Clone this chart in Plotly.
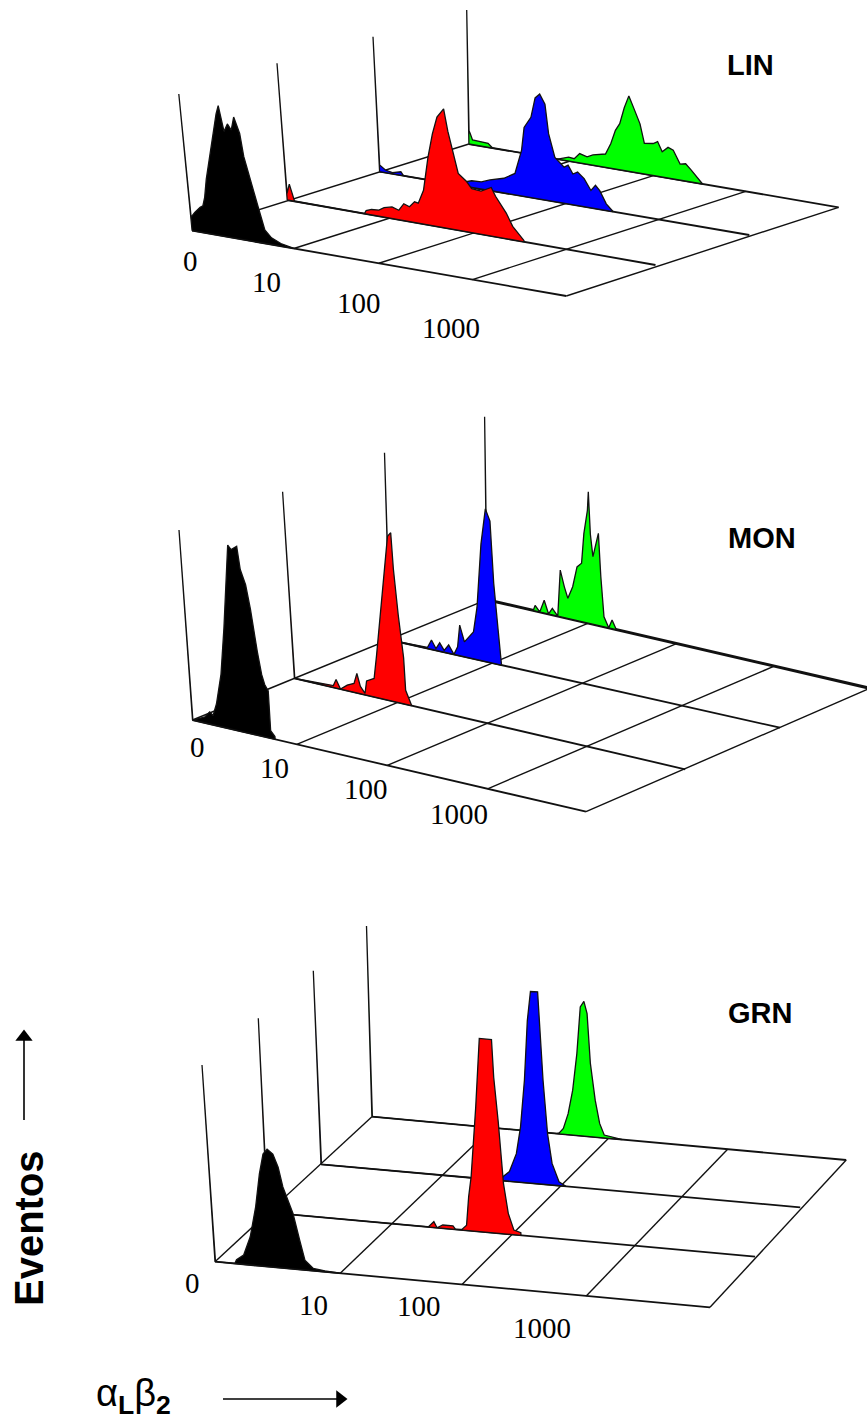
import plotly.graph_objects as go

# ---- histogram data: x = percent of the log channel axis, y = fraction of full scale ----
lin_black_x = [0,.1,1.2,2.8,3.6,4.3,5.2,6.4,7.4,8.6,9.6,10.4,11.3,12.4,13.3,14.3,15.5,16,16.8,17.4,18.6,19.8,21.4,23.8,27.2]
lin_black_y = [1,.1,.14,.185,.2,.265,.4,.54,.64,.80,.9,.965,.78,.84,.80,.90,.785,.62,.5,.42,.26,.10,.05,.02,0]
lin_red_x = [0,.1,.9,2,21,21.5,23,25,26.5,28.7,30.5,32,33.5,35,36,37.7,39.6,41.3,42.9,44.9,45.6,46.6,47.6,49.6,51,53.5,56.4,57.4,60,61.5,64.3]
lin_red_y = [1,.05,.12,0,0,.025,.04,.045,.07,.086,.07,.125,.11,.153,.148,.25,.50,.68,.81,.88,.72,.58,.42,.375,.325,.32,.36,.30,.19,.10,.01]
lin_blue_x = [0,.1,1.6,3.5,5.8,6.5,22,22.7,25,27.6,30,33.8,36.9,39,40,42,43.4,44.7,46,46.6,48,50.4,51.5,52.7,54,55.7,57.4,58.7,59.8,61.4,63.2]
lin_blue_y = [1,.05,.02,.01,.027,0,0,.03,.05,.054,.08,.11,.16,.34,.515,.60,.75,.785,.715,.50,.33,.27,.29,.23,.25,.21,.13,.175,.14,.05,0]
lin_green_x = [0,.1,.4,1,5.2,6.4,24,27,28.5,30,32,33.6,37,38.5,39.8,41,42.3,43.6,44.8,46.5,47.6,50,51.2,52.4,54,55.4,57.2,58.7,60.2,63.2]
lin_green_y = [1,.1,.08,.035,.03,0,0,.03,.025,.07,.055,.077,.10,.185,.29,.345,.47,.565,.485,.37,.23,.24,.26,.19,.23,.215,.12,.13,.09,0]

mon_black_x = [0,.1,3.3,4.6,5.4,6.5,8.2,9.8,12.3,13.1,14.6,15.1,16.2,17,18,18.7,19.3,20.1,20,21]
mon_black_y = [1,0,.033,.065,.05,.117,.28,.53,.98,.96,.985,.865,.79,.665,.447,.33,.28,.25,.04,.014]
mon_red_x = [0,.1,10,10.8,11.8,13.6,15.4,16.3,17,18.1,18.7,20.7,21.7,23.3,24.6,26.5,27.4,27.5,28,28.7,28.7,30]
mon_red_y = [1,0,.01,.046,0,.03,.048,.105,.04,.007,.077,.10,.227,.455,.635,.89,.914,.72,.477,.25,.076,0]
mon_blue_x = [0,.1,9.6,10.7,11.8,12.8,13.9,15.1,16.4,17.4,18.1,19.2,21.6,22.7,24.2,25.6,26.7,27.2,28,28.6]
mon_blue_y = [1,0,.005,.05,.01,.045,.01,.044,0,.045,.164,.08,.144,.28,.625,.82,.76,.43,.18,0]
mon_green_x = [0,.1,12.1,12.6,13.8,15,16.1,17.1,18.5,19.3,20.3,21.2,22.5,23.7,24.9,25.6,26.6,26.9,27.3,27.9,29.4,29.9,30.6,31.8,32.7,33.8]
mon_green_y = [1,0,0,.03,0,.07,0,.035,0,.255,.17,.11,.18,.294,.32,.485,.617,.72,.49,.37,.505,.27,.055,0,.047,0]

grn_black_x = [0,.1,4,4.4,5.9,7.5,9,10.2,11.2,12.1,13.2,14.1,14.8,15.5,16.5,17.5,18.3,19.9,22.2,25.3]
grn_black_y = [1,0,0,.02,.047,.144,.30,.47,.573,.60,.578,.513,.414,.364,.283,.15,.05,.012,.005,0]
grn_red_x = [0,.1,33,33.5,34.2,34.8,36,38.1,38.6,39.9,40.9,41.6,42.3,43.9,44.5,45.3,47.8,47.9,48.4,48.9,49.6,50.6,52]
grn_red_y = [1,0,0,.011,.03,0,.017,.017,0,.003,.027,.175,.28,.64,.80,1,1,.806,.58,.26,.108,.024,.014]
grn_blue_x = [0,.1,37.5,38,39.4,41,42.1,43.3,44.4,45.3,46.8,46.9,47.2,47.7,48.4,49.7,51.1]
grn_blue_y = [1,0,0,.02,.05,.146,.287,.53,.84,.993,.995,.81,.54,.265,.112,.02,0]
grn_green_x = [0,.1,39,39.5,40.4,41.5,42.6,43.7,44.7,45.5,46.1,46.5,47.3,48.1,49,50.9,52.8]
grn_green_y = [1,0,0,.005,.03,.11,.236,.43,.677,.708,.645,.385,.194,.074,.015,.007,0]

lin_grid = [0, 27.2, 49.9, 74.9, 100]
mon_grid = [0, 26.5, 49.5, 75, 100]
grn_grid = [0, 25.3, 49.9, 75, 100]
tick_labels = ["0", "10", "100", "1000"]
panel_names = ["LIN", "MON", "GRN"]
series_colors = {"black": "#000000", "red": "#ff0000", "blue": "#0000ff", "green": "#00ff00"}

# ---- oblique projection frames: floor start, floor end, top of the count axis ----
frames = {
    "LIN": {"black": ((192.1,230.7),(566.3,296),(178.8,94)),
            "red": ((287.2,200),(655.5,265),(277,63.3)),
            "blue": ((379.6,171.7),(749.3,235),(373,36.7)),
            "green": ((468.9,144),(838.6,207.3),(466.7,10))},
    "MON": {"black": ((192.5,720),(586,811.7),(179,530)),
            "red": ((294.4,678.3),(685.2,769.3),(282.6,491.7)),
            "blue": ((390,640),(780,727.7),(384.5,452.7)),
            "green": ((486.9,599.7),(870,688.3),(484.6,416.7))},
    "GRN": {"black": ((215,1261.7),(710,1307.3),(202,1065)),
            "red": ((267.3,1212.3),(755.1,1256.7),(258.3,1018.3)),
            "blue": ((321,1164.3),(800.2,1207.3),(313.3,970.7)),
            "green": ((371.9,1116.7),(846.2,1160),(366.5,926))},
}
data = {
    "LIN": {"black": (lin_black_x, lin_black_y), "red": (lin_red_x, lin_red_y),
            "blue": (lin_blue_x, lin_blue_y), "green": (lin_green_x, lin_green_y)},
    "MON": {"black": (mon_black_x, mon_black_y), "red": (mon_red_x, mon_red_y),
            "blue": (mon_blue_x, mon_blue_y), "green": (mon_green_x, mon_green_y)},
    "GRN": {"black": (grn_black_x, grn_black_y), "red": (grn_red_x, grn_red_y),
            "blue": (grn_blue_x, grn_blue_y), "green": (grn_green_x, grn_green_y)},
}
grids = {"LIN": lin_grid, "MON": mon_grid, "GRN": grn_grid}
label_pos = {"LIN": ((750,65), [(190,261),(266,282),(359,303),(451,328)]),
             "MON": ((762,538), [(197,747),(274,768),(366,789),(459,814)]),
             "GRN": ((760,1013), [(192,1283),(313,1305),(419,1306),(542,1328)])}


def project(frame, t, h):
    s, e, top = frame
    f = t / 100.0
    return (s[0] + f*(e[0]-s[0]) + h*(top[0]-s[0]),
            s[1] + f*(e[1]-s[1]) + h*(top[1]-s[1]))


fig = go.Figure()
LINE = "#111111"


def add_line(pts, width=1.3, color=LINE):
    fig.add_trace(go.Scatter(x=[p[0] for p in pts], y=[p[1] for p in pts], mode="lines",
                             line=dict(color=color, width=width), showlegend=False,
                             hoverinfo="skip"))


for name in panel_names:
    fr = frames[name]
    for t in grids[name]:
        add_line([project(fr["black"], t, 0), project(fr["green"], t, 0)], 1.4)
    for s in ["green", "blue", "red", "black"]:
        add_line([project(fr[s], 0, 0), project(fr[s], 100, 0)],
                 3 if (name == "MON" and s == "green") else 1.8)
        xs, ys = data[name][s]
        pts = [project(fr[s], xs[0], 0)] + [project(fr[s], a, b) for a, b in zip(xs, ys)]
        pts.append(project(fr[s], xs[-1], 0))
        pts.append(pts[0])
        fig.add_trace(go.Scatter(x=[p[0] for p in pts], y=[p[1] for p in pts], mode="lines",
                                 fill="toself", fillcolor=series_colors[s],
                                 line=dict(color=LINE, width=1.3), showlegend=False,
                                 hoverinfo="skip"))

annotations = []
for name in panel_names:
    (lx, ly), ticks = label_pos[name]
    annotations.append(dict(x=lx, y=ly, text=f"<b>{name}</b>", showarrow=False,
                            font=dict(family="Liberation Sans", size=29, color="black")))
    for txt, (tx, ty) in zip(tick_labels, ticks):
        annotations.append(dict(x=tx, y=ty, text=txt, showarrow=False,
                                font=dict(family="Liberation Serif", size=29, color="black")))
annotations.append(dict(x=29, y=1228, text="<b>Eventos</b>", textangle=-90, showarrow=False,
                        font=dict(family="Liberation Sans", size=40, color="black")))
annotations.append(dict(x=133, y=1396, showarrow=False,
                        text="α<sub><b>L</b></sub>β<sub><b>2</b></sub>",
                        font=dict(family="Liberation Sans", size=38, color="black")))

# arrows
add_line([(24, 1120), (24, 1040)], 1.6, "black")
add_line([(223, 1399), (337, 1399)], 1.6, "black")
fig.add_trace(go.Scatter(x=[24, 340], y=[1037, 1399], mode="markers", showlegend=False,
                         hoverinfo="skip",
                         marker=dict(symbol=["triangle-up", "triangle-right"], size=15, color="black")))

fig.update_layout(width=867, height=1421, margin=dict(l=0, r=0, t=0, b=0),
                  paper_bgcolor="white", plot_bgcolor="white", showlegend=False,
                  annotations=annotations,
                  xaxis=dict(range=[0, 867], visible=False, fixedrange=True),
                  yaxis=dict(range=[1421, 0], visible=False, fixedrange=True))
fig.write_html("out.html", config={"displayModeBar": False},
               post_script="document.body.style.margin='0';document.documentElement.style.overflow='hidden';")
